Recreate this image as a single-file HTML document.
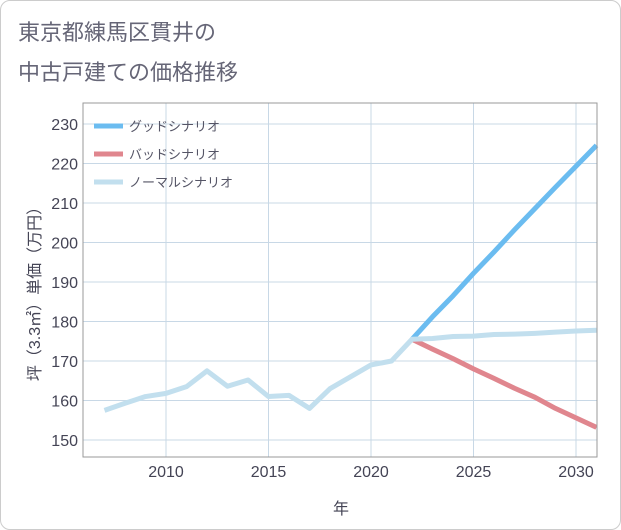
<!DOCTYPE html>
<html><head><meta charset="utf-8"><style>
body{margin:0;background:#fff;font-family:"Liberation Sans","Noto Sans CJK JP",sans-serif;}
#card{position:absolute;left:0;top:0;width:619px;height:528px;border:1px solid #ccc;border-radius:10px;background:#fff;}
</style></head><body>
<div id="card">
<svg id="chart" width="621" height="530" style="position:absolute;left:-1px;top:-1px">
<text x="18" y="40" font-size="22" fill="#667">東京都練馬区貫井の</text>
<text x="18" y="80" font-size="22" fill="#667">中古戸建ての価格推移</text>
<g id="grid"></g><g id="series"></g><g id="axes"></g>
<rect x="83" y="103" width="514" height="354" fill="none" stroke="#999"/>
<text x="341" y="514" font-size="16" fill="#445" text-anchor="middle">年</text>
<text transform="translate(40,290) rotate(-90)" font-size="16" fill="#445" text-anchor="middle">坪（3.3㎡）単価（万円）</text>
<g>
<line x1="94" y1="126" x2="123" y2="126" stroke="#6bbcf0" stroke-width="5"/>
<text x="129" y="131" font-size="13" fill="#556">グッドシナリオ</text>
<line x1="94" y1="154" x2="123" y2="154" stroke="#e0868e" stroke-width="5"/>
<text x="129" y="159" font-size="13" fill="#556">バッドシナリオ</text>
<line x1="94" y1="182" x2="123" y2="182" stroke="#c2dfee" stroke-width="5"/>
<text x="129" y="187" font-size="13" fill="#556">ノーマルシナリオ</text>
</g>
</svg></div>
<script>
const normalYears=[2007,2008,2009,2010,2011,2012,2013,2014,2015,2016,2017,2018,2019,2020,2021,2022,2023,2024,2025,2026,2027,2028,2029,2030,2031];
const normalValues=[157.5,159.3,161,161.8,163.5,167.5,163.6,165.2,161,161.3,158,163,166,169,170,175.5,175.7,176.2,176.3,176.7,176.8,177,177.3,177.6,177.8];
const goodYears=[2022,2023,2024,2025,2026,2027,2028,2029,2030,2031];
const goodValues=[175.5,181.2,186.5,192.2,197.6,203.2,208.6,214,219.3,224.6];
const badYears=[2022,2023,2024,2025,2026,2027,2028,2029,2030,2031];
const badValues=[175.5,173,170.6,168,165.6,163.1,160.8,158,155.6,153.2];
const xTicks=[2010,2015,2020,2025,2030];
const yTicks=[150,160,170,180,190,200,210,220,230];
const NS="http://www.w3.org/2000/svg";
const X=y=>166+(y-2010)*20.5;
const Y=v=>440-(v-150)*3.95;
function mk(t,a,p){const e=document.createElementNS(NS,t);for(const k in a)e.setAttribute(k,a[k]);p.appendChild(e);return e;}
const grid=document.getElementById('grid'),axes=document.getElementById('axes'),ser=document.getElementById('series');
yTicks.forEach(v=>{
 const l=mk('line',{x1:83,x2:597,y1:Y(v),y2:Y(v),stroke:'#c8d8e6'},grid);
 
 
 const t=mk('text',{x:78,y:Y(v)+6,'font-size':16,fill:'#445','text-anchor':'end'},axes);
 t.textContent=v;
 
 
});
xTicks.forEach(v=>{
 const l=mk('line',{x1:X(v),x2:X(v),y1:103,y2:457,stroke:'#c8d8e6'},grid);
 
 
 const t=mk('text',{x:X(v),y:477,'font-size':16,fill:'#445','text-anchor':'middle'},axes);
 t.textContent=v;
 
 
});
function line(xs,vs,c,name){
 const p=mk('polyline',{points:xs.map((x,i)=>X(x)+','+Y(vs[i])).join(' '),fill:'none',stroke:c,'stroke-width':5,'stroke-linejoin':'round'},ser);
 
 
}
line(goodYears,goodValues,'#6bbcf0','good-scenario-line');
line(badYears,badValues,'#e0868e','bad-scenario-line');
line(normalYears,normalValues,'#c2dfee','normal-scenario-line');
</script>
</body></html>
